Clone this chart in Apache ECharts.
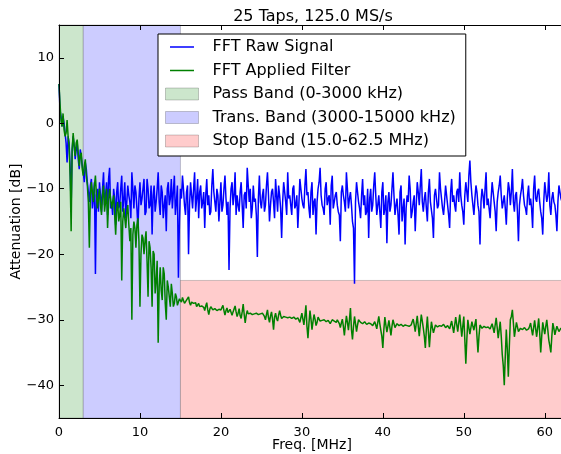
<!DOCTYPE html>
<html>
<head>
<meta charset="utf-8">
<title>25 Taps, 125.0 MS/s</title>
<script src="https://cdn.jsdelivr.net/npm/echarts@6/dist/echarts.min.js"></script>
<style>
  html, body { margin: 0; padding: 0; background: #fff; }
  #chart { width: 561px; height: 454px; }
</style>
</head>
<body>
<div id="chart"></div>
<script>
// FFT bins are 0.125 MHz apart, starting at 0 MHz
const binWidth = 0.125;
const xTicks = [0, 10, 20, 30, 40, 50, 60];
const yTicks = [-40, -30, -20, -10, 0, 10];
const xRange = [0, 62.5];
const yRange = [-45, 15];

// filter bands (MHz) and stop band level (dB)
const passBand = [0, 3];
const transBand = [3, 15];
const stopBand = [15, 62.5];
const stopLevel = -24;

// dB values, one per bin
const rawSignal = [
  6, 2, 1, -0.5, 1, 0, -1.5, -3, -6, -2,
  -3, -7, -12.8, -4, -2, -3.5, -5.5, -4, -3, -5.5,
  -7, -4, -5, -6.5, -7.5, -9, -6, -7, -9, -10.5,
  -12, -9.5, -8.5, -13, -11.5, -9, -23, -11, -10, -13.5,
  -9, -11, -13.5, -10, -7.5, -12.5, -11, -9, -14, -8.5,
  -6.8, -13, -12, -14, -10, -11.5, -15.5, -10.5, -9, -13,
  -12.5, -10, -8, -13.5, -11.5, -9, -14.5, -12, -9.5, -11,
  -12, -14.5, -7.5, -10, -13, -9.5, -10.5, -13, -16, -11.5,
  -9, -12.5, -11.5, -10, -8.5, -14, -13.5, -8.5, -10, -13,
  -12.5, -9.5, -17, -11, -9.5, -13.5, -12, -10, -7.5, -12,
  -14, -9.5, -10.5, -14.5, -12.5, -11, -16.5, -10, -9, -12.5,
  -11.5, -8.5, -13, -10.5, -8, -14, -12, -9.5, -23.6, -15,
  -10, -11.5, -8, -10, -12.5, -14, -10.5, -9.5, -20, -12.5,
  -9, -11, -13, -10, -7.5, -13.5, -11.5, -8.5, -14.5, -10.5,
  -9.5, -13, -12, -10.5, -16, -11, -8.5, -12.5, -11, -14,
  -13.5, -9.5, -7, -10.5, -12, -13.5, -10, -11, -15, -12,
  -9, -13.5, -12.5, -10, -8, -11.5, -14, -12, -22.4, -13,
  -10, -9, -12.5, -11, -7.5, -14, -11, -12.5, -13.5, -10.5,
  -9, -12.5, -16, -11, -10.5, -13, -6.8, -9.5, -12, -10,
  -14.5, -13, -9.5, -12, -11.5, -14, -20.4, -11.5, -8, -12,
  -13, -11, -10, -13.5, -12.5, -9.5, -7.5, -11, -15, -12.5,
  -10.5, -10, -12, -14.5, -8.5, -11, -13.5, -9.5, -11, -13,
  -17.5, -12, -9, -10.5, -12, -14, -7.5, -11.5, -11, -12.5,
  -14, -10, -9.5, -13, -12.5, -11, -16, -12.5, -8.5, -10,
  -11.5, -12.5, -13, -9.5, -7, -11, -10.5, -13, -14.5, -10.5,
  -9, -14, -12, -11.5, -17, -12, -10, -9, -6.8, -11,
  -12.5, -13, -14, -10, -9, -12.5, -11.5, -11, -15.5, -9.5,
  -8, -13, -12, -11, -10.5, -12.5, -13.5, -14, -18, -10.5,
  -9.5, -11, -12, -13.5, -7.5, -10, -13, -11.5, -10.5, -12.5,
  -15, -16, -24.5, -12, -9, -10.5, -12, -13, -14.5, -11,
  -8.5, -12.5, -11, -14, -13.5, -10, -17.5, -11.5, -10, -13.5,
  -12.5, -9.5, -7.5, -11, -14, -12.5, -11, -13.5, -16, -10.5,
  -9, -14, -13, -11, -18.3, -12, -10.5, -13.5, -12.5, -10,
  -7.5, -11, -14, -12.5, -11.5, -14, -17, -10.5, -9.5, -15,
  -13, -11.5, -18.5, -13, -11, -12, -8, -10, -14.5, -13.5,
  -12, -11, -16.5, -12.5, -9, -10.5, -12.5, -9.5, -7, -12,
  -13.5, -11.5, -10.5, -13, -15, -10.5, -8.5, -12, -12, -14.5,
  -17.5, -11, -10, -10, -13, -12.5, -7.5, -10, -11.5, -13,
  -14, -12, -9.5, -11, -12.5, -14, -16, -10.5, -8.5, -12,
  -11, -12.5, -13.5, -10.5, -10, -12, -7.5, -11, -12.5, -13.5,
  -15.5, -11, -9, -10.5, -12, -8, -5.7, -9, -11, -12.5,
  -14, -11.5, -9.5, -10.5, -12.5, -13.5, -18.5, -12, -10, -11,
  -13, -10, -7.5, -12.5, -11.5, -13, -14.5, -11.5, -9, -10.5,
  -12, -13.5, -16.5, -12, -10.5, -9.5, -8, -11, -13, -12,
  -11, -13, -15.5, -11.5, -9, -10, -12.5, -10.5, -7, -12,
  -13.5, -11, -10.5, -13.5, -18, -12.5, -11, -10, -8.5, -11,
  -12.5, -13, -14, -11, -9.5, -12.5, -11.5, -13, -16, -10,
  -8, -11.5, -12, -10.5, -10, -12, -13.5, -14.5, -17, -12,
  -9, -10.5, -12, -11, -7.5, -12.5, -14, -11.5, -10.5, -12,
  -12.5, -14, -16.5, -12, -9.5, -10.5, -11.5, -12, -13, -11.5,
  -10
];

const filtered = [
  6, 3, 0.5, -0.5, 1.5, -1, -2, -1.5, 0.5, -2,
  -3.5, -8, -16.5, -4, -1.5, -3.5, -5, -3, -2.5, -4.5,
  -6.5, -5, -4.5, -7, -8, -6.5, -5.5, -8, -9.5, -12,
  -19, -11, -9, -10.5, -12, -9.5, -8, -11, -13, -11.5,
  -10, -12.5, -14, -11, -9.5, -13.5, -12, -10, -16, -12,
  -10, -11.5, -13, -12, -11, -14, -17, -13, -12, -15,
  -14, -12, -24, -15, -13, -14.5, -16, -13.5, -12.5, -15.5,
  -18, -16, -30, -17, -15, -16, -19, -15.5, -14.5, -18,
  -28, -20, -17, -17.5, -20, -18, -16.5, -21, -26.5, -18,
  -19, -22, -28, -19.5, -20, -26, -24, -21, -33.5, -25,
  -22, -25.5, -27, -22, -23, -27.5, -30, -24, -25, -26.5,
  -28, -24.5, -26, -28, -27.5, -26, -26.5, -27.8, -27.3, -26.8,
  -27, -27.3, -26.6, -26.9, -27.5, -27.2, -27, -27.3, -26.5, -27.4,
  -27.8, -27.3, -27.2, -27.5, -27.6, -27.4, -28, -27.7, -27.5, -28,
  -28.2, -27.9, -27.8, -28.1, -28.6, -27.9, -27.4, -28.5, -29.2, -28.4,
  -28, -28.3, -28.5, -28.2, -28.3, -28.5, -28.6, -28.4, -28.4, -28.5,
  -28.5, -28.8, -27.8, -28.6, -29.3, -28.6, -28.2, -28.9, -29, -28.4,
  -28.6, -29.3, -28.8, -28.5, -27.9, -28.8, -29.5, -29, -28.3, -29.4,
  -29.8, -28.8, -27.6, -29.2, -30.5, -29.3, -28.6, -29.1, -29.4, -29,
  -29, -29.2, -29.1, -29.1, -29.2, -29, -29, -29.2, -29.3, -29.1,
  -29.2, -29, -28.7, -29.5, -30, -29.2, -28.5, -29.7, -30.4, -29.4,
  -28.8, -29.9, -31.5, -29.6, -29, -29.8, -30.2, -29.3, -28.6, -29.3,
  -29.8, -29.6, -29.5, -29.6, -29.6, -29.7, -29.7, -29.6, -29.6, -29.7,
  -29.8, -29.7, -29.6, -29.8, -29.9, -29.8, -29.7, -30, -30.4, -29.7,
  -29, -29.9, -30.8, -29.4, -27.8, -31, -32.8, -30.5, -28.6, -29.9,
  -31.5, -30.3, -29.2, -29.9, -30.9, -30.4, -29.6, -29.9, -30.2, -30.1,
  -30.1, -30, -30, -30.2, -30.3, -30.2, -30.1, -30.4, -30.6, -30.3,
  -30, -30.1, -30.2, -30.3, -30.4, -30, -29.7, -30.6, -31.2, -30.5,
  -29.9, -31, -32.4, -30.8, -29.4, -30.4, -31.6, -30, -28.2, -31.5,
  -33, -31, -29.5, -30.6, -31.8, -30.8, -30, -30.2, -30.4, -30.5,
  -30.6, -30.4, -30.3, -30.5, -30.7, -30.6, -30.5, -30.5, -30.6, -30.8,
  -30.9, -30.6, -30.3, -30.8, -31.4, -30.4, -29.5, -30.6, -31.6, -32.5,
  -34.3, -31.5, -29.6, -30.8, -31.9, -31, -30.1, -31.2, -32.4, -31,
  -30, -30.6, -31.2, -30.9, -30.6, -30.7, -30.9, -30.8, -30.7, -30.9,
  -31, -30.9, -30.8, -30.9, -30.9, -30.9, -31, -30.9, -30.8, -30.3,
  -29.9, -30.8, -31.8, -30.6, -29.4, -31, -32.5, -30.8, -29.2, -30.2,
  -31.3, -32.5, -34.3, -31.5, -29.5, -31.8, -34.2, -32, -30.3, -31.2,
  -32, -31.4, -30.8, -30.9, -31.1, -31, -30.9, -30.9, -31, -30.8,
  -30.7, -31, -31.2, -31, -30.9, -31.1, -31.4, -30.8, -30.2, -31.1,
  -32, -30.8, -29.6, -30.7, -31.8, -30.5, -29.2, -30.9, -32.6, -31,
  -29.5, -33, -36.7, -33, -30, -31.2, -32.2, -31.2, -30.3, -31,
  -31.6, -30.7, -29.9, -32.5, -35, -32.5, -30.8, -31, -31.3, -31.1,
  -31, -31.1, -31.2, -31.2, -31.1, -31.3, -31.4, -31, -30.6, -31.3,
  -32, -30.8, -29.7, -31.2, -32.8, -31.5, -30.3, -32.5, -35.3, -37,
  -40, -35.5, -31.5, -34.5, -38.7, -34, -30, -29.5, -28.5, -30.5,
  -32.6, -31.5, -30.4, -31.1, -31.8, -31.5, -31.3, -31.4, -31.5, -31.3,
  -31.2, -31.4, -31.6, -31.5, -31.4, -31, -30.5, -31.5, -32.4, -31.2,
  -30.1, -31.4, -32.6, -31.2, -29.8, -32, -35, -32.5, -30.4, -31.3,
  -32.2, -31, -30, -31.5, -33.1, -34, -35, -32.5, -30.5, -31.3,
  -32.3, -31.6, -31, -31.4, -31.8, -31.5, -31.3, -31.4, -31.6, -31.5,
  -31.5
];

const font = "DejaVu Sans";
const edge = "rgba(0,0,0,0.2)";
// thin line icon with a 33x12 bounding box (tiny corner dots keep the size)
const lineIcon = "path://M0,0h0.01v0.01h-0.01z M33,12h0.01v0.01h-0.01z M4.5,5.3h24v1.4h-24z";

function toPairs(arr) {
  return arr.map((v, i) => [i * binWidth, v]);
}

function bandSeries(name, color, area) {
  return {
    name: name,
    type: "line",
    data: [],
    color: color,
    silent: true,
    markArea: {
      silent: true,
      itemStyle: { color: color, borderColor: edge, borderWidth: 1 },
      emphasis: { disabled: true },
      data: [area]
    }
  };
}

const chart = echarts.init(document.getElementById("chart"));
chart.setOption({
  animation: false,
  backgroundColor: "#fff",
  title: {
    text: "25 Taps, 125.0 MS/s",
    left: 308,
    top: 4,
    textAlign: "center",
    textStyle: { fontFamily: font, fontSize: 16, fontWeight: "normal", color: "#000" }
  },
  grid: { left: 59, right: -4, top: 25, bottom: 36, containLabel: false, outerBoundsMode: "none" },
  legend: {
    orient: "vertical",
    left: 158,
    top: 34,
    padding: [5, 10, 7, 7],
    itemGap: 7.5,
    itemWidth: 33,
    itemHeight: 12,
    backgroundColor: "#fff",
    borderColor: "#000",
    borderWidth: 1,
    borderRadius: 0,
    selectedMode: false,
    textStyle: { fontFamily: font, fontSize: 16, color: "#000", padding: [0, 0, 0, 9] },
    data: [
      { name: "FFT Raw Signal", icon: lineIcon, itemStyle: { borderWidth: 0 } },
      { name: "FFT Applied Filter", icon: lineIcon, itemStyle: { borderWidth: 0 } },
      { name: "Pass Band (0-3000 kHz)", icon: "rect", itemStyle: { borderColor: edge, borderWidth: 1 } },
      { name: "Trans. Band (3000-15000 kHz)", icon: "rect", itemStyle: { borderColor: edge, borderWidth: 1 } },
      { name: "Stop Band (15.0-62.5 MHz)", icon: "rect", itemStyle: { borderColor: edge, borderWidth: 1 } }
    ]
  },
  xAxis: [
    {
      type: "value",
      position: "bottom",
      min: xRange[0],
      max: xRange[1],
      z: 10,
      name: "Freq. [MHz]",
      nameLocation: "middle",
      nameGap: 20,
      nameMoveOverlap: false,
      nameTextStyle: { fontFamily: font, fontSize: 14, color: "#000" },
      axisLine: { onZero: false, lineStyle: { color: "#000", width: 1 } },
      axisTick: { inside: true, length: 5, customValues: xTicks, lineStyle: { color: "#000" } },
      axisLabel: { customValues: xTicks, margin: 8, fontFamily: font, fontSize: 13, color: "#000" },
      splitLine: { show: false }
    },
    {
      type: "value",
      position: "top",
      min: xRange[0],
      max: xRange[1],
      z: 10,
      axisLine: { onZero: false, lineStyle: { color: "#000", width: 1 } },
      axisTick: { inside: true, length: 5, customValues: xTicks, lineStyle: { color: "#000" } },
      axisLabel: { show: false },
      splitLine: { show: false }
    }
  ],
  yAxis: {
    type: "value",
    min: yRange[0],
    max: yRange[1],
    z: 10,
    name: "Attenuation [dB]",
    nameLocation: "middle",
    nameGap: 36,
    nameMoveOverlap: false,
    nameRotate: 90,
    nameTextStyle: { fontFamily: font, fontSize: 14, color: "#000" },
    axisLine: { show: true, onZero: false, lineStyle: { color: "#000", width: 1 } },
    axisTick: { show: true, inside: true, length: 5, customValues: yTicks, lineStyle: { color: "#000" } },
    axisLabel: {
      customValues: yTicks,
      margin: 5,
      fontFamily: font,
      fontSize: 13,
      color: "#000",
      formatter: (v) => String(v).replace("-", "\u2212")
    },
    splitLine: { show: false }
  },
  series: [
    bandSeries("Pass Band (0-3000 kHz)", "#cce6cc", [{ xAxis: passBand[0] }, { xAxis: passBand[1] }]),
    bandSeries("Trans. Band (3000-15000 kHz)", "#ccccff", [{ xAxis: transBand[0] }, { xAxis: transBand[1] }]),
    bandSeries("Stop Band (15.0-62.5 MHz)", "#ffcccc", [
      { xAxis: stopBand[0], yAxis: yRange[0] },
      { xAxis: stopBand[1], yAxis: stopLevel }
    ]),
    {
      name: "FFT Raw Signal",
      type: "line",
      data: toPairs(rawSignal),
      color: "#0000ff",
      symbol: "none",
      showSymbol: false,
      lineStyle: { color: "#0000ff", width: 1.5 },
      z: 3
    },
    {
      name: "FFT Applied Filter",
      type: "line",
      data: toPairs(filtered),
      color: "#008000",
      symbol: "none",
      showSymbol: false,
      lineStyle: { color: "#008000", width: 1.5 },
      z: 4
    }
  ]
});
</script>
</body>
</html>
